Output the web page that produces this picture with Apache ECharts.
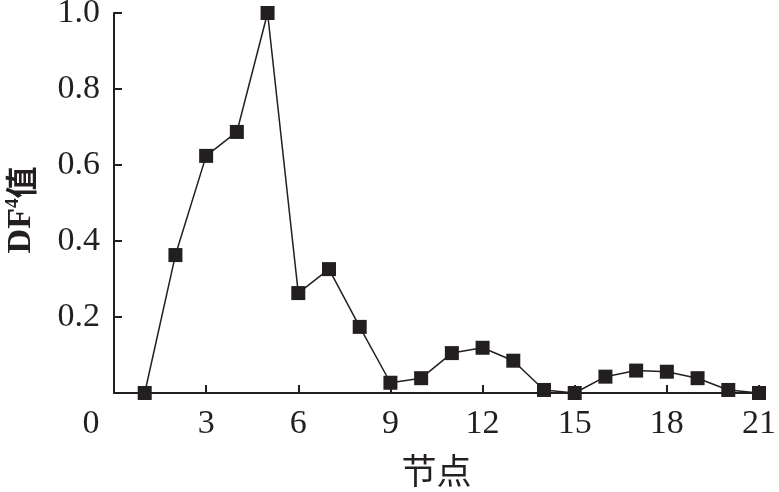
<!DOCTYPE html>
<html><head><meta charset="utf-8">
<script src="https://cdn.jsdelivr.net/npm/echarts@6/dist/echarts.min.js"></script>
<style>html,body{margin:0;padding:0;background:#fff}#c{width:779px;height:492px}</style>
</head><body><div id="c"></div>
<script>
var nodes = [1,2,3,4,5,6,7,8,9,10,11,12,13,14,15,16,17,18,19,20,21];
var dfValues = [0,0.363,0.624,0.687,1.0,0.263,0.326,0.174,0.027,0.039,0.105,0.119,0.085,0.008,0,0.043,0.059,0.056,0.039,0.008,0];
var xTicks = [0,3,6,9,12,15,18,21];
var yTicks = [0.2,0.4,0.6,0.8,1.0];
var xName = '节点';

var chart = echarts.init(document.getElementById('c'), null, {renderer:'canvas'});
var serif = '"Liberation Serif","DejaVu Serif",serif';
var ink = '#231f20';
chart.setOption({
  animation:false,
  backgroundColor:'#fff',
  grid:{left:114, right:20, top:13, bottom:99, containLabel:false, outerBoundsMode:'none'},
  xAxis:{
    type:'value', min:0, max:21, interval:3,
    name:xName, nameLocation:'middle', nameGap:60,
    nameTextStyle:{fontFamily:'"Noto Sans CJK SC",sans-serif', fontSize:35, color:ink},
    axisLine:{show:true, onZero:false, lineStyle:{color:ink, width:2}},
    axisTick:{show:true, inside:true, length:8, lineStyle:{color:ink, width:2}},
    splitLine:{show:false},
    axisLabel:{
      fontFamily:serif, fontSize:34, color:ink, margin:14,
      formatter:function(v){ return v===0 ? '{z|0}' : String(v); },
      rich:{z:{fontFamily:serif, fontSize:34, color:ink, padding:[0,46,0,0]}}
    }
  },
  yAxis:{
    type:'value', min:0, max:1.0, interval:0.2,
    name:'{a|DF}{s|4}{b|值}', nameLocation:'middle', nameGap:76, nameRotate:90,
    nameTextStyle:{
      padding:[0,14,0,0],
      rich:{
        a:{fontFamily:serif, fontWeight:'bold', fontSize:34, color:ink},
        s:{fontFamily:serif, fontWeight:'bold', fontSize:19, color:ink, verticalAlign:'top', padding:[0,0,14,0]},
        b:{fontFamily:'"Noto Sans CJK SC",sans-serif', fontWeight:'bold', fontSize:32, color:ink}
      }
    },
    axisLine:{show:true, lineStyle:{color:ink, width:2}},
    axisTick:{show:true, inside:true, length:8, lineStyle:{color:ink, width:2}},
    splitLine:{show:false},
    axisLabel:{
      fontFamily:serif, fontSize:34, color:ink, margin:14,
      formatter:function(v){ return v===0 ? '' : v.toFixed(1); }
    }
  },
  series:[{
    type:'line',
    data:nodes.map(function(n,i){return [n, dfValues[i]];}),
    symbol:'rect', symbolSize:14,
    itemStyle:{color:ink},
    lineStyle:{color:ink, width:1.5},
    clip:false
  }]
});
</script></body></html>
